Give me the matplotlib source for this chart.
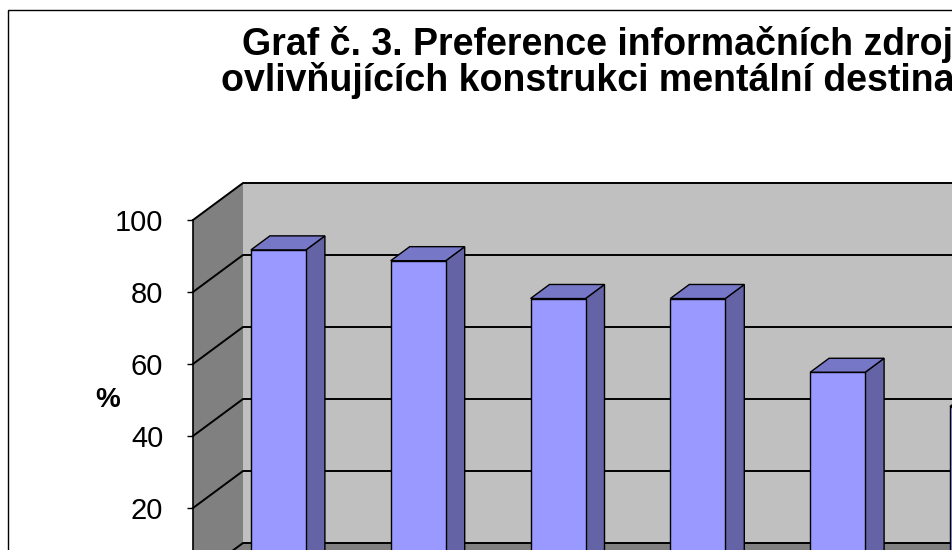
import matplotlib
matplotlib.use("Agg")
import matplotlib.pyplot as plt
import numpy as np
from matplotlib import transforms
from matplotlib.patches import Polygon, Rectangle

# values read from the (cropped) chart
values = [88.5, 85.5, 75, 75, 54.5, 45]
yticks = [0, 20, 40, 60, 80, 100]
title = "Graf č. 3. Preference informačních zdrojů\novlivňujících konstrukci mentální destinace"
ylabel = "%"

plt.rcParams['font.family'] = ['Liberation Sans', 'DejaVu Sans']

W, H = 952, 550
fig = plt.figure(figsize=(W / 100, H / 100), dpi=100)

# front plane of the 3d box (part of it lies outside the picture, as in the crop)
ax = fig.add_axes([193 / W, -30 / H, 7 * 139.8 / W, 360 / H])
ax.set_xlim(0.5, 7.5)
ax.set_ylim(0, 100)
ax.patch.set_visible(False)
for s in ['top', 'right', 'bottom']:
    ax.spines[s].set_visible(False)
ax.spines['left'].set_linewidth(1.2)
ax.spines['left'].set_zorder(10)
ax.set_xticks([])
# the 0 label sits below the cropped edge
ax.set_yticks(yticks, labels=[str(t) if t else '' for t in yticks])
ax.tick_params(axis='y', direction='out', length=4.5, width=1, pad=17, labelsize=21)
ax.set_ylabel(ylabel, rotation=0, fontsize=20, fontweight='bold', ha='center', va='center')
ax.yaxis.set_label_coords(-85 / (7 * 139.8), 0.5)

# depth of the box in pixels
DX, DY = 50, 37
ident = transforms.IdentityTransform()


def P(x, y, d=0.0):
    px, py = ax.transData.transform((x, y))
    return (px + d * DX, py + d * DY)


def poly(pts, fc, ec='none', lw=0, z=1):
    ax.add_patch(Polygon(pts, closed=True, facecolor=fc, edgecolor=ec,
                         linewidth=lw, transform=ident, clip_on=False, zorder=z))


x0, x1 = ax.get_xlim()
poly([P(x0, 0, 1), P(x1, 0, 1), P(x1, 100, 1), P(x0, 100, 1)], '#C0C0C0')   # back wall
poly([P(x0, 0, 0), P(x1, 0, 0), P(x1, 0, 1), P(x0, 0, 1)], '#808080')       # floor
poly([P(x0, 0, 0), P(x0, 100, 0), P(x0, 100, 1), P(x0, 0, 1)], '#808080')   # side wall

# gridlines on side wall + back wall
for v in yticks:
    pts = np.array([P(x0, v, 0), P(x0, v, 1), P(x1, v, 1)])
    ax.plot(pts[:, 0], pts[:, 1], color='black', lw=1.4, transform=ident,
            clip_on=False, zorder=2)

# bars
x = np.arange(1, len(values) + 1)
bw = 55 / 139.8
f0, bd = 0.31, 0.38
front = transforms.offset_copy(ax.transData, fig=fig, x=f0 * DX, y=f0 * DY, units='dots')
ax.bar(x, values, width=bw, color='#9999FF', edgecolor='black', linewidth=1,
       transform=front, clip_on=False, zorder=4)
for xi, v in zip(x, values):
    xl, xr = xi - bw / 2, xi + bw / 2
    poly([P(xr, 0, f0), P(xr, v, f0), P(xr, v, f0 + bd), P(xr, 0, f0 + bd)],
         '#6363A5', ec='black', lw=1, z=3)
    poly([P(xl, v, f0), P(xr, v, f0), P(xr, v, f0 + bd), P(xl, v, f0 + bd)],
         '#7777C8', ec='black', lw=1, z=3)

fig.text(609 / W, 1 - 24 / H, title, ha='center', va='top', fontsize=27,
         fontweight='bold', linespacing=0.97)

# chart area border
fig.add_artist(Rectangle((7.5 / W, -0.1), 2, (H - 9.5) / H + 0.1, transform=fig.transFigure,
                         fill=False, edgecolor='black', lw=1))

fig.savefig('out.png', dpi=100)
